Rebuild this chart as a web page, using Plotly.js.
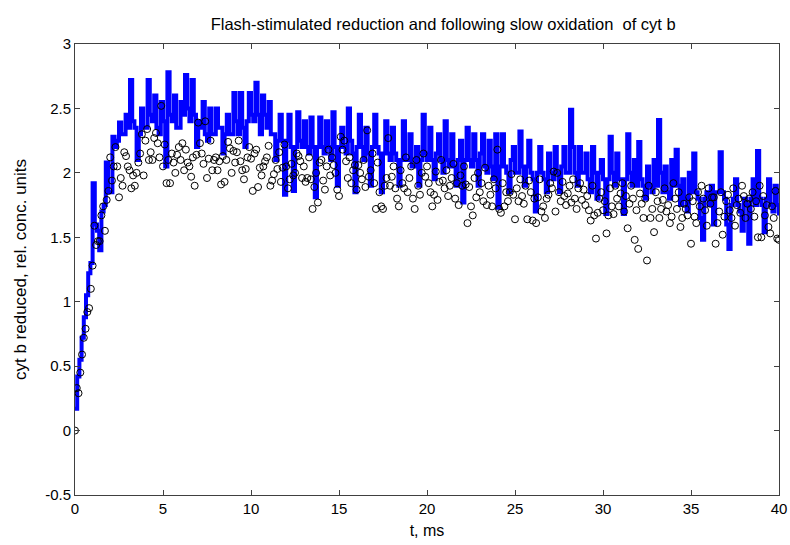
<!DOCTYPE html>
<html>
<head>
<meta charset="utf-8">
<script src="https://cdn.plot.ly/plotly-3.0.1.min.js"></script>
<style>html,body{margin:0;padding:0;background:#fff;}#chart{width:790px;height:545px;}</style>
</head>
<body>
<div id="chart"></div>
<script>
// Blue trace: sampled every 0.125 ms, 0..40 ms
var lineStart = 0, lineStep = 0.125;
var lineValues = [
0.17,0.42,0.55,0.72,0.88,1.05,1.22,1.3,
1.92,1.6,1.55,1.4,1.7,1.75,2.08,1.85,
1.85,2.28,2.2,2.25,2.39,2.3,2.3,2.45,
2.35,2.72,2.4,2.35,2.1,2.3,2.5,2.35,
2.35,2.72,2.45,2.4,2.6,2.35,2.3,2.55,
2.4,2.05,2.78,2.45,2.4,2.6,2.35,2.35,
2.55,2.45,2.76,2.5,2.4,2.72,2.45,2.2,
2.4,2.35,2.55,2.3,2.25,2.5,2.3,2.3,
2.5,2.35,2.35,2.15,2.3,2.45,2.3,2.3,
2.62,2.4,2.3,2.62,2.35,2.2,2.4,2.62,
2.45,2.4,2.7,2.45,2.3,2.6,2.45,2.35,
2.55,2.3,2.3,2.1,2.25,2.45,2.25,1.83,
2.25,2.45,2.2,1.86,2.2,2.47,2.25,2.2,
2.4,2.2,2.15,2.43,2.2,1.81,2.2,2.43,
2.2,2.15,2.4,2.2,2.1,2.47,2.2,1.9,
2.2,2.35,2.2,2.15,2.5,2.25,2.15,1.85,
2.2,2.45,2.2,2.1,2.35,2.15,1.9,2.2,
2.45,2.2,2.15,1.85,2.15,2.4,2.15,2.1,
2.35,2.15,2.1,1.9,2.1,2.4,2.1,2.1,
2.3,2.05,2.05,2.2,1.9,2.1,2.45,2.15,
2.1,2.35,2.1,1.95,2.15,2.3,2.1,2.0,
2.4,2.1,2.05,2.3,2.05,1.9,2.1,2.25,
1.77,2.1,2.35,2.1,2.05,2.3,2.1,1.9,
2.15,2.3,2.05,2.0,2.25,2.05,1.95,2.3,
1.73,2.05,2.3,2.05,2.0,1.85,2.1,2.2,
2.0,2.0,2.32,2.05,1.9,2.05,2.25,2.0,
1.95,1.7,2.0,2.2,2.0,1.95,1.85,2.15,
2.0,1.95,2.2,2.0,1.85,2.05,2.2,2.0,
2.0,2.49,2.2,2.0,1.9,2.2,2.0,2.0,
2.15,1.95,1.85,2.2,2.0,1.8,2.0,2.1,
1.95,1.68,1.95,2.28,2.0,1.9,2.15,1.95,
1.95,1.68,1.95,2.3,2.0,1.9,2.1,1.9,
2.24,1.95,1.9,1.8,2.05,1.9,1.85,2.1,
1.9,2.41,2.0,1.85,2.05,1.85,1.8,2.1,
1.9,2.18,1.9,1.75,1.95,1.8,1.7,2.0,
1.85,2.15,1.85,1.8,1.65,1.48,1.8,1.85,
1.75,1.9,1.6,1.85,1.85,2.16,1.85,1.8,
1.6,1.41,1.75,1.8,1.95,1.75,1.7,1.55,
1.8,1.75,1.45,1.8,1.95,1.75,2.17,1.8,
1.75,1.54,1.8,1.95,1.75,1.7,1.9,1.75,
1.67
];

// Circles: sampled every 0.1 ms, 0..40 ms
var dotStart = 0, dotStep = 0.1;
var dotValues = [
0,0.33,0.29,0.45,0.59,0.72,0.79,0.92,0.95,1.1,
1.28,1.59,1.44,1.47,1.47,1.67,1.74,1.55,1.79,1.86,
2.12,1.94,2.05,2.2,2.05,1.81,1.96,1.9,2.16,2.13,
2.05,2.02,1.88,1.98,1.9,2.0,2.08,2.15,2.3,1.98,
2.25,2.34,2.1,2.16,2.1,2.27,2.31,2.23,2.12,2.52,
2.05,2.22,1.92,2.1,1.92,2.15,2.08,2.0,2.14,2.2,
2.1,2.23,2.02,2.18,2.08,2.05,1.97,2.12,1.9,2.14,
2.39,2.23,2.15,2.07,2.4,1.96,2.11,2.25,2.02,2.1,
2.12,2.02,2.09,1.91,2.13,1.93,2.1,2.24,2.19,2.0,
2.17,2.08,2.16,2.25,2.09,2.02,1.95,2.03,2.12,2.2,
2.11,1.86,2.15,2.18,1.89,2.04,1.98,2.05,2.09,2.12,
2.21,1.9,1.94,1.99,2.1,2.03,2.16,1.93,2.04,2.22,
2.05,1.88,1.95,2.07,1.98,2.0,2.15,2.13,2.09,1.96,
2.05,1.93,1.96,2.12,1.95,1.72,1.89,2.0,1.77,2.08,
2.1,1.94,1.87,2.05,2.18,1.98,2.12,2.06,2.0,1.87,
1.82,2.28,2.18,2.25,2.09,1.96,2.12,1.92,2.02,2.06,
1.87,2.06,2.0,1.95,2.1,1.89,2.33,1.97,2.02,2.15,
1.92,1.72,2.08,1.85,1.74,1.72,1.9,1.96,2.27,1.9,
1.97,2.05,1.88,1.8,1.74,2.02,1.92,1.88,2.12,1.85,
1.96,2.05,1.8,1.72,2.1,1.9,1.83,2.0,2.15,1.97,
2.05,1.92,1.85,1.74,1.83,2.01,1.79,1.93,2.1,1.94,
1.88,2.02,1.82,1.9,1.96,2.07,1.8,1.92,1.75,1.98,
1.9,2.05,1.91,1.61,1.89,1.74,1.67,1.96,1.81,2.0,
1.85,1.92,1.78,2.04,1.75,1.9,1.83,1.74,1.95,1.88,
2.18,1.72,1.69,1.92,1.74,1.85,1.78,1.85,1.99,1.83,
1.64,1.88,1.78,1.95,1.82,1.76,1.9,1.64,1.94,1.85,
1.63,1.8,1.61,1.81,1.95,1.7,1.74,1.65,1.8,1.83,
1.92,1.88,2.01,1.7,2.0,1.85,1.78,1.93,1.82,1.75,
1.84,1.9,1.77,1.95,1.8,1.72,1.88,1.92,1.79,1.87,
1.75,1.82,1.71,1.63,1.9,1.67,1.49,1.69,1.8,1.85,
1.71,1.78,1.53,1.67,1.88,1.74,1.68,1.9,1.8,1.74,
1.84,1.92,1.7,1.82,1.57,1.76,1.9,1.8,1.48,1.71,
1.41,1.84,1.76,1.65,1.8,1.32,1.9,1.65,1.72,1.54,
1.85,1.78,1.65,1.72,1.79,1.88,1.7,1.75,1.61,1.66,
1.92,1.8,1.72,1.85,1.58,1.65,1.76,1.72,1.67,1.81,
1.45,1.78,1.66,1.61,1.85,1.74,1.9,1.8,1.71,1.59,
1.88,1.76,1.81,1.81,1.45,1.61,1.7,1.85,1.52,1.66,
1.78,1.83,1.71,1.65,1.88,1.59,1.75,1.8,1.69,1.9,
1.82,1.65,1.76,1.8,1.72,1.85,1.66,1.78,1.5,1.9,
1.5,1.82,1.67,1.75,1.58,1.53,1.74,1.65,1.86,1.49,
1.48
];

var xTicks = [0,5,10,15,20,25,30,35,40];
var yTicks = [-0.5,0,0.5,1,1.5,2,2.5,3];

var titleText = 'Flash-stimulated reduction and following slow oxidation  of cyt b';
var xTitle = 't, ms';
var yTitle = 'cyt b reduced, rel. conc. units';

function times(start, step, n) {
  var out = [];
  for (var i = 0; i < n; i++) out.push(+(start + i * step).toFixed(4));
  return out;
}

var fontFam = '"Liberation Sans", Arial, sans-serif';

var traces = [
  {
    x: times(lineStart, lineStep, lineValues.length),
    y: lineValues,
    type: 'scatter',
    mode: 'lines',
    line: {color: '#0000ff', width: 4, shape: 'hv'},
    hoverinfo: 'skip'
  },
  {
    x: times(dotStart, dotStep, dotValues.length),
    y: dotValues,
    type: 'scatter',
    mode: 'markers',
    marker: {symbol: 'circle-open', size: 7, color: '#000000', line: {width: 1, color: '#000000'}},
    hoverinfo: 'skip'
  }
];

var axisCommon = {
  showline: true,
  mirror: 'ticks',
  linecolor: '#404040',
  linewidth: 1,
  ticks: 'inside',
  ticklen: 5,
  tickcolor: '#404040',
  showgrid: false,
  zeroline: false,
  tickfont: {family: fontFam, size: 15, color: '#000'}
};

var layout = {
  width: 790,
  height: 545,
  margin: {l: 75, r: 11, t: 44, b: 50},
  paper_bgcolor: '#ffffff',
  plot_bgcolor: '#ffffff',
  showlegend: false,
  font: {family: fontFam, color: '#000'},
  title: {text: titleText, font: {family: fontFam, size: 16.5, color: '#000'}, x: 0.561, xanchor: 'center', y: 0.955, yanchor: 'middle'},
  xaxis: Object.assign({}, axisCommon, {
    range: [0, 40],
    tickvals: xTicks,
    ticktext: xTicks.map(String),
    title: {text: xTitle, font: {family: fontFam, size: 16, color: '#000'}, standoff: 8}
  }),
  yaxis: Object.assign({}, axisCommon, {
    range: [-0.5, 3],
    tickvals: yTicks,
    ticktext: yTicks.map(String),
    title: {text: yTitle, font: {family: fontFam, size: 17, color: '#000'}, standoff: 14}
  })
};

Plotly.newPlot('chart', traces, layout, {displayModeBar: false, staticPlot: true});
</script>
</body>
</html>
